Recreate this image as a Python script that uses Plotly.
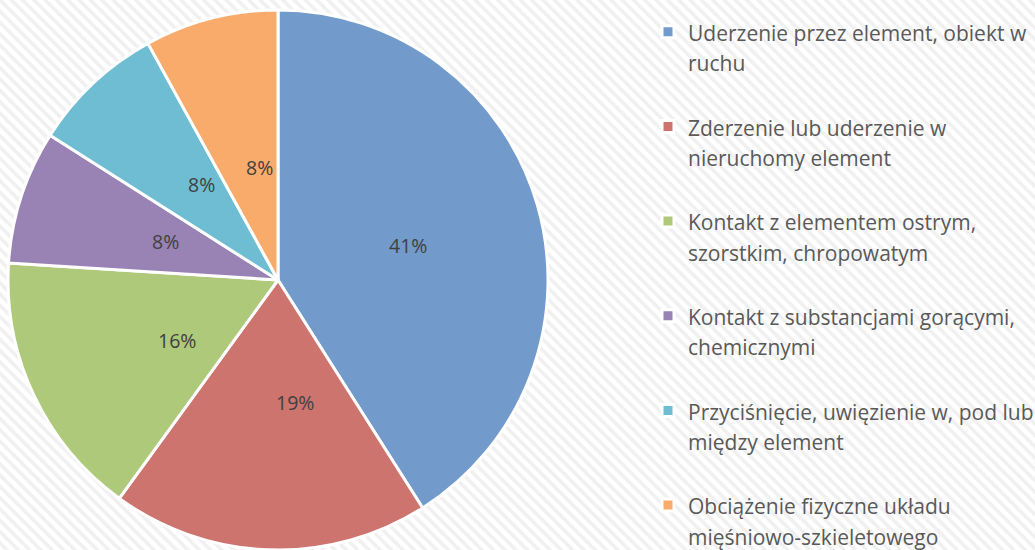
import math
import plotly.graph_objects as go

categories = [
    "Uderzenie przez element, obiekt w<br>ruchu",
    "Zderzenie lub uderzenie w<br>nieruchomy element",
    "Kontakt z elementem ostrym,<br>szorstkim, chropowatym",
    "Kontakt z substancjami gorącymi,<br>chemicznymi",
    "Przyciśnięcie, uwięzienie w, pod lub<br>między element",
    "Obciążenie fizyczne układu<br>mięśniowo-szkieletowego",
]
values = [41, 19, 16, 8, 8, 8]
colors = ["#729ACA", "#CD746F", "#AFC97A", "#9983B5", "#6FBDD2", "#F8AB6B"]

W, H = 1035, 550
dom_x = [8 / W, 548 / W]
dom_y = [0.0, 540 / H]

SPAN = '<span style="font-size:21px">'
legend_labels = []
for i, c in enumerate(categories):
    lab = SPAN + c.replace("<br>", "</span><br>" + SPAN) + "</span>"
    if i < len(categories) - 1:
        lab += "<br>&nbsp;"
    legend_labels.append(lab)

fig = go.Figure()

# hatched background
fig.add_trace(go.Scatter(
    x=[0, 1, 1, 0, 0], y=[0, 0, 1, 1, 0], mode="lines", fill="toself",
    line=dict(width=0), fillcolor="white",
    fillpattern=dict(shape="\\", size=8, solidity=0.45, fgcolor="#E2E2E2", bgcolor="white"),
    showlegend=False, hoverinfo="skip",
))

fig.add_trace(go.Pie(
    labels=legend_labels, values=values, sort=False, direction="clockwise", rotation=0,
    marker=dict(colors=colors, line=dict(color="white", width=3)),
    textinfo="none", domain=dict(x=dom_x, y=dom_y), hoverinfo="label+percent",
))

# percentage labels at half radius, computed from the data
total = sum(values)
cx = (dom_x[0] + dom_x[1]) / 2
cy = (dom_y[0] + dom_y[1]) / 2
r = min((dom_x[1] - dom_x[0]) * W, (dom_y[1] - dom_y[0]) * H) / 2
cum = 0
for v in values:
    mid = (cum + v / 2) / total * 2 * math.pi
    cum += v
    ax = cx + 0.5 * r * math.sin(mid) / W
    ay = cy + 0.5 * r * math.cos(mid) / H
    fig.add_annotation(x=ax, y=ay - 3 / H, xref="paper", yref="paper", showarrow=False,
                       text=f"{round(v / total * 100)}%",
                       font=dict(family="Open Sans", size=19.5, color="#404040"))

fig.update_layout(
    width=W, height=H,
    margin=dict(l=0, r=0, t=0, b=0, autoexpand=False),
    paper_bgcolor="white", plot_bgcolor="white",
    xaxis=dict(visible=False, range=[0, 1], domain=[0, 1], fixedrange=True),
    yaxis=dict(visible=False, range=[0, 1], domain=[0, 1], fixedrange=True),
    legend=dict(
        x=648 / W, y=1 - 10 / H, xanchor="left", yanchor="top",
        font=dict(family="Open Sans", size=23.5, color="#595959"),
        valign="top", bgcolor="rgba(0,0,0,0)",
    ),
    showlegend=True,
)

fig.write_html("out.html", config={"displayModeBar": False},
               post_script="document.body.style.margin='0';")
